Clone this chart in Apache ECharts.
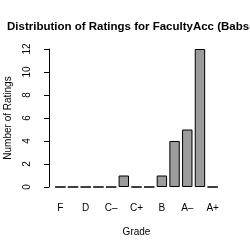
<!DOCTYPE html>
<html>
<head>
<title>Distribution of Ratings</title>
<script src='https://cdn.jsdelivr.net/npm/echarts@6/dist/echarts.min.js'></script>
<style>html, body {margin: 0; padding: 0; background: #fff;}</style>
</head>
<body>
<div id='main' style='width: 250px; height: 250px;'></div>
<script type='text/javascript'>
var grades = ['F', 'D-', 'D', 'D+', 'C-', 'C', 'C+', 'B-', 'B', 'B+', 'A-', 'A', 'A+'];
var gradeLabels = ['F', 'D', 'C\u2013', 'C+', 'B', 'A\u2013', 'A+'];
var ratingCounts = [0, 0, 0, 0, 0, 1, 0, 0, 1, 4, 5, 12, 0];
var yTicks = [0, 2, 4, 6, 8, 10, 12];

var chartDom = document.getElementById('main');
var myChart = echarts.init(chartDom, null, {renderer: 'canvas'});
var font = 'Liberation Sans';
var option = {
  animation: false,
  title: {
    text: 'Distribution of Ratings for FacultyAcc (Babson)',
    left: 2,
    top: 12,
    textStyle: {fontFamily: font, fontSize: 11.5, fontWeight: 'bold', color: '#000'}
  },
  grid: {left: 54, right: 31, top: 49, bottom: 63, containLabel: false, outerBoundsMode: 'none'},
  xAxis: {
    type: 'category',
    data: grades,
    name: 'Grade',
    nameLocation: 'middle',
    nameGap: 37,
    nameMoveOverlap: false,
    nameTextStyle: {fontFamily: font, fontSize: 10, color: '#000'},
    axisLine: {show: false},
    axisTick: {show: false},
    axisLabel: {
      interval: 1,
      margin: 13,
      fontFamily: font,
      fontSize: 10,
      color: '#000',
      formatter: function (v, i) { return gradeLabels[i / 2]; }
    }
  },
  yAxis: {
    type: 'value',
    min: yTicks[0],
    max: yTicks[yTicks.length - 1],
    interval: 2,
    offset: 5,
    name: 'Number of Ratings',
    nameLocation: 'middle',
    nameGap: 32,
    nameMoveOverlap: false,
    nameTextStyle: {fontFamily: font, fontSize: 10, color: '#000'},
    splitLine: {show: false},
    axisLine: {show: true, lineStyle: {color: '#000', width: 1}},
    axisTick: {show: true, length: 5, lineStyle: {color: '#000'}},
    axisLabel: {rotate: 90, margin: 13, fontFamily: font, fontSize: 10, color: '#000'}
  },
  series: [{
    type: 'bar',
    data: ratingCounts,
    barCategoryGap: '18%',
    itemStyle: {color: '#9c9c9c', borderColor: '#000', borderWidth: 1}
  }]
};
myChart.setOption(option);
</script>
</body>
</html>
